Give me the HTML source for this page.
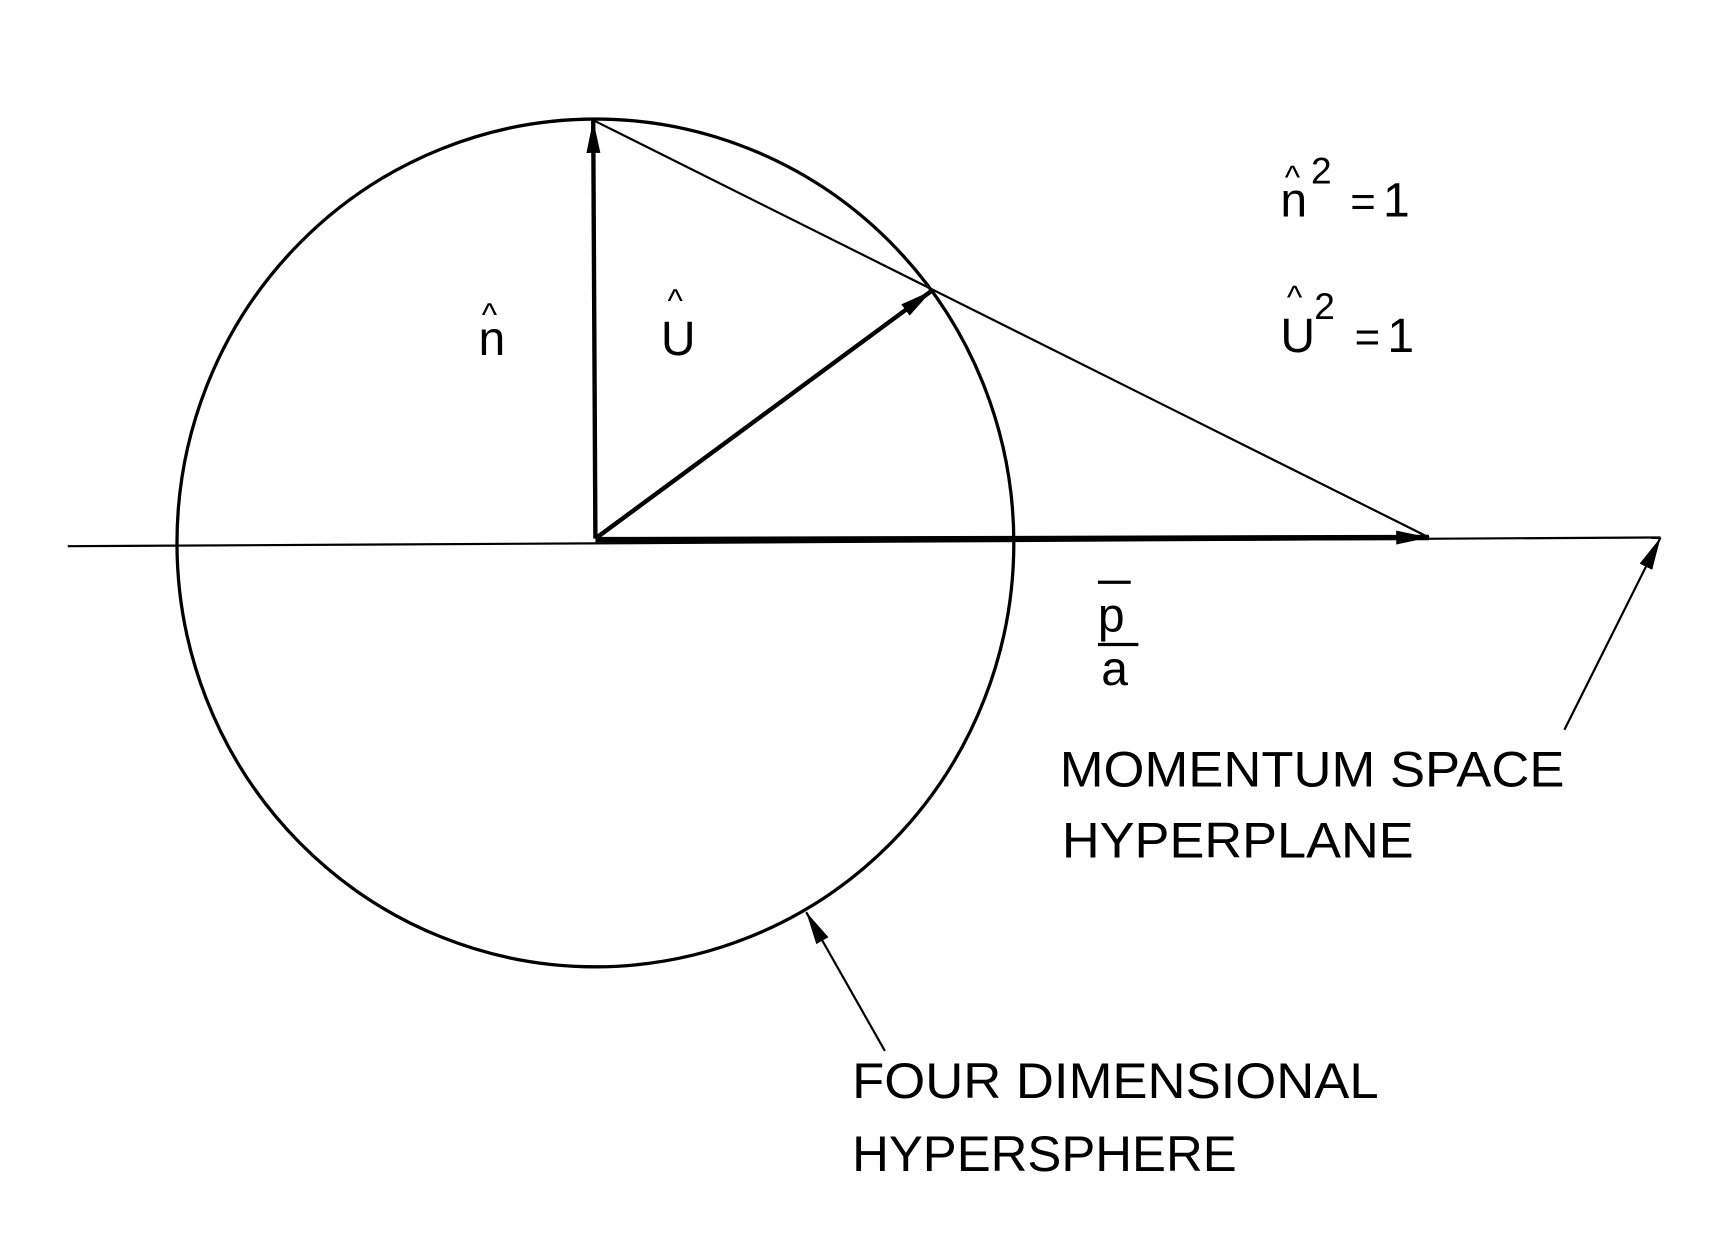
<!DOCTYPE html>
<html><head><style>html,body{margin:0;padding:0;background:#fff}svg{display:block}</style></head>
<body>
<svg width="1713" height="1241" viewBox="0 0 1568 1136" preserveAspectRatio="none" xmlns="http://www.w3.org/2000/svg">
<defs>
<marker id="a" viewBox="0 0 10 10" refX="10" refY="5" markerWidth="10" markerHeight="10" markerUnits="userSpaceOnUse" orient="auto"><path d="M0,2 L10,5 L0,8 z" fill="#000"/></marker>
<marker id="b" viewBox="0 0 10 10" refX="10" refY="5" markerWidth="30" markerHeight="16" markerUnits="userSpaceOnUse" orient="auto" preserveAspectRatio="none"><path d="M0,1 L10,5 L0,9 z" fill="#000"/></marker>
</defs>
<g fill="none" stroke="#000">
<ellipse cx="545" cy="497" rx="383" ry="388" stroke-width="3"/>
<line x1="62" y1="500" x2="1520" y2="492" stroke-width="2"/>
<line x1="545" y1="493" x2="543" y2="110" stroke-width="4" marker-end="url(#b)"/>
<line x1="543" y1="110" x2="1308" y2="492" stroke-width="2"/>
<line x1="545" y1="493" x2="853" y2="266" stroke-width="4" marker-end="url(#b)"/>
<line x1="545" y1="494" x2="1308" y2="492" stroke-width="5" marker-end="url(#b)"/>
<line x1="1432" y1="668" x2="1520" y2="492" stroke-width="2" marker-end="url(#b)"/>
<line x1="810" y1="962" x2="738" y2="835" stroke-width="2" marker-end="url(#b)"/>
<line x1="1005" y1="533" x2="1035" y2="533" stroke-width="3"/>
<line x1="1005" y1="590" x2="1042" y2="590" stroke-width="3"/>
</g>
<g font-family="Liberation Sans, sans-serif" fill="#000">
<text x="438" y="325" font-size="44">n</text><text x="441" y="298" font-size="30">^</text>
<text x="605" y="325" font-size="44">U</text><text x="611" y="285" font-size="30">^</text>
<text x="1172" y="198" font-size="44">n</text><text x="1176" y="172" font-size="30">^</text>
<text x="1200" y="168" font-size="34">2</text><text x="1236" y="198" font-size="40">=</text><text x="1266" y="198" font-size="44">1</text>
<text x="1172" y="322" font-size="44">U</text><text x="1178" y="282" font-size="30">^</text>
<text x="1203" y="292" font-size="34">2</text><text x="1240" y="322" font-size="40">=</text><text x="1270" y="322" font-size="44">1</text>
<text x="1005" y="578" font-size="44">p</text>
<text x="1008" y="627" font-size="44">a</text>
<text x="970" y="720" font-size="46" textLength="462" lengthAdjust="spacingAndGlyphs">MOMENTUM SPACE</text>
<text x="972" y="785" font-size="46" textLength="322" lengthAdjust="spacingAndGlyphs">HYPERPLANE</text>
<text x="780" y="1005" font-size="46" textLength="482" lengthAdjust="spacingAndGlyphs">FOUR DIMENSIONAL</text>
<text x="780" y="1072" font-size="46" textLength="352" lengthAdjust="spacingAndGlyphs">HYPERSPHERE</text>
</g>
</svg>
</body></html>
